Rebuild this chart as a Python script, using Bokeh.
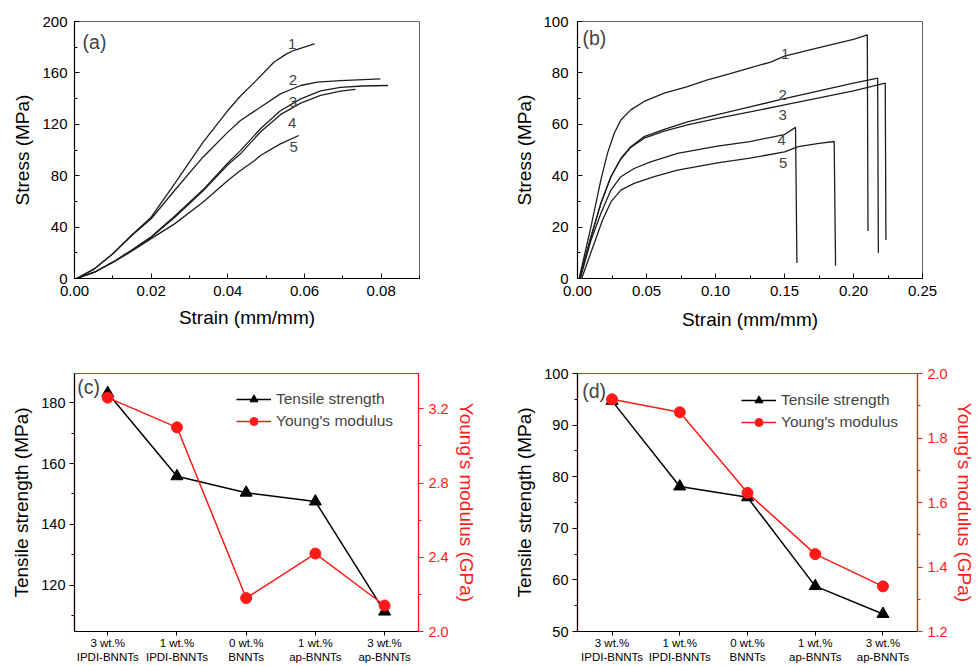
from bokeh.plotting import figure
from bokeh.models import (Range1d, LinearAxis, SingleIntervalTicker, FixedTicker,
                          NumeralTickFormatter, Label, Legend, LegendItem)
from bokeh.layouts import column, row
from bokeh.embed import file_html
from bokeh.resources import INLINE

FONT = "Liberation Sans"

# ---------------- data: panel (a) stress-strain ----------------
a1_x = [0.0005, 0.0052, 0.010, 0.0148, 0.020, 0.0261, 0.0335, 0.040, 0.0433, 0.047, 0.052, 0.055, 0.0571, 0.0626]
a1_y = [0.0, 7.5, 19.2, 33.5, 47.7, 73.7, 106.0, 130.7, 142.0, 152.8, 168.3, 174.2, 177.4, 182.6]
a2_x = [0.0005, 0.0052, 0.010, 0.0148, 0.020, 0.0261, 0.0335, 0.040, 0.0433, 0.0485, 0.0537, 0.059, 0.0633, 0.0694, 0.0798]
a2_y = [0.0, 7.5, 19.2, 33.0, 46.5, 68.5, 94.4, 113.9, 123.0, 133.3, 143.7, 150.2, 152.8, 154.0, 155.4]
a3_x = [0.0005, 0.0052, 0.010, 0.0148, 0.020, 0.0261, 0.0335, 0.040, 0.0433, 0.0485, 0.0537, 0.059, 0.0642, 0.0694, 0.075, 0.0818]
a3_y = [0.0, 4.9, 12.7, 21.8, 32.5, 48.5, 69.0, 90.0, 99.5, 116.5, 130.5, 139.8, 146.0, 148.8, 149.8, 150.2]
a4_x = [0.0005, 0.0052, 0.010, 0.0148, 0.020, 0.0261, 0.0335, 0.040, 0.0433, 0.0485, 0.0537, 0.059, 0.0642, 0.0694, 0.0733]
a4_y = [0.0, 4.9, 12.7, 21.8, 32.0, 47.5, 68.0, 88.5, 97.0, 114.0, 127.5, 136.5, 142.5, 145.8, 147.1]
a5_x = [0.0005, 0.0052, 0.010, 0.0148, 0.020, 0.0261, 0.0335, 0.040, 0.0433, 0.047, 0.0485, 0.0537, 0.0585]
a5_y = [0.0, 4.9, 12.5, 21.0, 31.0, 42.5, 59.4, 76.3, 84.0, 91.8, 95.7, 104.8, 111.3]
a_lab_x = [0.0568, 0.0570, 0.0570, 0.0568, 0.0572]
a_lab_y = [182.6, 154.6, 137.2, 120.9, 102.2]

# ---------------- data: panel (b) stress-strain ----------------
b1_x = [0.0012, 0.0097, 0.0169, 0.0217, 0.0266, 0.0314, 0.0386, 0.0483, 0.0628, 0.0797, 0.0942, 0.110, 0.125, 0.140, 0.150, 0.175, 0.200, 0.210, 0.2105]
b1_y = [0.0, 20.0, 38.3, 48.7, 56.5, 61.7, 65.6, 68.9, 72.1, 74.7, 77.3, 79.6, 82.0, 84.2, 86.5, 89.8, 93.0, 94.8, 18.5]
b2_x = [0.0015, 0.0097, 0.0169, 0.0242, 0.0314, 0.0386, 0.0483, 0.0628, 0.0797, 0.1014, 0.125, 0.150, 0.175, 0.200, 0.2175, 0.218]
b2_y = [0.0, 16.1, 29.2, 39.6, 46.7, 51.3, 55.2, 58.0, 60.9, 63.8, 66.8, 70.0, 73.0, 76.0, 78.0, 10.0]
b3_x = [0.0015, 0.0097, 0.0169, 0.0242, 0.0314, 0.0386, 0.0483, 0.0628, 0.0797, 0.1014, 0.125, 0.150, 0.175, 0.200, 0.223, 0.2235]
b3_y = [0.0, 16.1, 29.2, 39.6, 46.5, 51.0, 54.6, 57.3, 59.8, 62.3, 64.8, 67.6, 70.3, 73.0, 76.0, 15.0]
b4_x = [0.002, 0.0097, 0.0169, 0.0242, 0.0314, 0.041, 0.053, 0.0725, 0.1014, 0.125, 0.150, 0.158, 0.159]
b4_y = [0.0, 14.8, 25.3, 34.4, 39.6, 42.8, 45.4, 48.7, 51.5, 53.3, 56.0, 58.8, 6.0]
b5_x = [0.003, 0.012, 0.0181, 0.0242, 0.0314, 0.041, 0.0556, 0.0725, 0.1014, 0.125, 0.150, 0.160, 0.175, 0.186, 0.187]
b5_y = [0.0, 13.5, 22.7, 29.8, 34.4, 37.0, 39.6, 42.2, 45.0, 46.8, 49.3, 51.3, 52.6, 53.3, 5.0]
b_lab_x = [0.1505, 0.1486, 0.1486, 0.1480, 0.1490]
b_lab_y = [87.4, 71.4, 63.8, 53.8, 45.0]

curve_labels = ["1", "2", "3", "4", "5"]

# ---------------- data: panels (c), (d) ----------------
categories = ["3 wt.%\nIPDI-BNNTs", "1 wt.%\nIPDI-BNNTs", "0 wt.%\nBNNTs",
              "1 wt.%\nap-BNNTs", "3 wt.%\nap-BNNTs"]
cat_pos = [0, 1, 2, 3, 4]
c_tensile = [183.2, 155.8, 150.4, 147.5, 111.3]
c_modulus = [3.26, 3.10, 2.18, 2.42, 2.14]
d_tensile = [94.7, 78.1, 76.0, 58.8, 53.4]
d_modulus = [1.92, 1.88, 1.63, 1.44, 1.34]

RED = "#ff1a1a"
CURVE = "#1e1e1e"


def base_fig(w, h, xr, yr, bl, br, bt, bb):
    p = figure(width=w, height=h, x_range=xr, y_range=yr, output_backend="svg",
               toolbar_location=None, min_border_left=bl, min_border_right=br,
               min_border_top=bt, min_border_bottom=bb)
    p.grid.visible = False
    p.background_fill_color = "white"
    p.border_fill_color = "white"
    return p


def style_axis(ax, color="black", inside=True, label_size="15px", label_standoff=6,
               axis_label_standoff=6, tick_out=5):
    ax.axis_line_color = color
    ax.axis_line_width = 1.2
    ax.major_tick_line_color = color
    ax.minor_tick_line_color = color
    ax.major_label_text_color = color
    ax.axis_label_text_color = color
    ax.major_label_text_font = FONT
    ax.major_label_text_font_size = label_size
    ax.axis_label_text_font = FONT
    ax.axis_label_text_font_size = "19px"
    ax.axis_label_text_font_style = "normal"
    ax.major_label_standoff = label_standoff
    ax.axis_label_standoff = axis_label_standoff
    if inside:
        ax.major_tick_in = 5
        ax.major_tick_out = 0
        ax.minor_tick_in = 3
        ax.minor_tick_out = 0
    else:
        ax.major_tick_in = 0
        ax.major_tick_out = tick_out
        ax.minor_tick_in = 0
        ax.minor_tick_out = 3


def panel_label(p, x, y, text):
    p.add_layout(Label(x=x, y=y, text=text, text_font=FONT, text_font_size="19.5px",
                       text_align="left", text_baseline="middle"))


# ---------------- panel (a) ----------------
pa = base_fig(480, 340, Range1d(0, 0.09), Range1d(0, 200), 74, 61, 21, 62)
pa.outline_line_color = "#666666"
for xs, ys in [(a1_x, a1_y), (a2_x, a2_y), (a3_x, a3_y), (a4_x, a4_y), (a5_x, a5_y)]:
    pa.line(xs, ys, line_color=CURVE, line_width=1.3)
for x, y, t in zip(a_lab_x, a_lab_y, curve_labels):
    pa.add_layout(Label(x=x, y=y, text=t, text_font=FONT, text_font_size="15px",
                        text_align="center", text_baseline="middle"))
pa.xaxis.ticker = SingleIntervalTicker(interval=0.02, num_minor_ticks=2)
pa.xaxis.formatter = NumeralTickFormatter(format="0.00")
pa.yaxis.ticker = SingleIntervalTicker(interval=40, num_minor_ticks=2)
pa.xaxis.axis_label = "Strain (mm/mm)"
pa.yaxis.axis_label = "Stress (MPa)"
style_axis(pa.xaxis[0], label_standoff=7, axis_label_standoff=8)
style_axis(pa.yaxis[0], label_standoff=7, axis_label_standoff=6)
panel_label(pa, 0.0021, 184.4, "(a)")

# ---------------- panel (b) ----------------
pb = base_fig(497, 340, Range1d(0, 0.25), Range1d(0, 100), 97, 55, 21, 62)
pb.outline_line_color = "#666666"
for xs, ys in [(b1_x, b1_y), (b2_x, b2_y), (b3_x, b3_y), (b4_x, b4_y), (b5_x, b5_y)]:
    pb.line(xs, ys, line_color=CURVE, line_width=1.3)
for x, y, t in zip(b_lab_x, b_lab_y, curve_labels):
    pb.add_layout(Label(x=x, y=y, text=t, text_font=FONT, text_font_size="15px",
                        text_align="center", text_baseline="middle"))
pb.xaxis.ticker = SingleIntervalTicker(interval=0.05, num_minor_ticks=2)
pb.xaxis.formatter = NumeralTickFormatter(format="0.00")
pb.yaxis.ticker = SingleIntervalTicker(interval=20, num_minor_ticks=2)
pb.xaxis.axis_label = "Strain (mm/mm)"
pb.yaxis.axis_label = "Stress (MPa)"
style_axis(pb.xaxis[0], label_standoff=7, axis_label_standoff=10)
style_axis(pb.yaxis[0], label_standoff=9, axis_label_standoff=5)
panel_label(pb, 0.0036, 93.75, "(b)")


# ---------------- panels (c), (d) ----------------
def make_bottom(w, bl, br, xr, yl, yr, yl_int, yr_int, tens, modu, lab, lab_y, leg_loc,
                rlab_standoff):
    p = base_fig(w, 325, xr, yl, bl, br, 33, 34)
    p.outline_line_color = RED
    p.outline_line_width = 1.2
    p.extra_y_ranges = {"ym": yr}
    lt = p.line(cat_pos, tens, line_color="black", line_width=1.5)
    st = p.scatter(cat_pos, tens, marker="triangle", size=12, fill_color="black",
                   line_color="black")
    lm = p.line(cat_pos, modu, line_color=RED, line_width=1.5, y_range_name="ym")
    sm = p.scatter(cat_pos, modu, marker="circle", size=11, fill_color=RED,
                   line_color=RED, y_range_name="ym")
    p.xaxis.ticker = FixedTicker(ticks=cat_pos, minor_ticks=[])
    p.xaxis.major_label_overrides = {pos: c for pos, c in zip(cat_pos, categories)}
    style_axis(p.xaxis[0], inside=False, label_size="11.5px", label_standoff=1,
               tick_out=4)
    p.yaxis.ticker = SingleIntervalTicker(interval=yl_int, num_minor_ticks=2)
    p.yaxis.axis_label = "Tensile strength (MPa)"
    style_axis(p.yaxis[0], inside=False, label_size="14.5px", label_standoff=4,
               axis_label_standoff=6)
    ax = LinearAxis(y_range_name="ym", axis_label="Young's modulus (GPa)",
                    ticker=SingleIntervalTicker(interval=yr_int, num_minor_ticks=2),
                    formatter=NumeralTickFormatter(format="0.0"))
    style_axis(ax, color=RED, inside=False, label_size="14.5px", label_standoff=5,
               axis_label_standoff=rlab_standoff)
    p.add_layout(ax, "right")
    leg = Legend(items=[LegendItem(label="Tensile strength", renderers=[lt, st]),
                        LegendItem(label="Young's modulus", renderers=[lm, sm])],
                 location=leg_loc, border_line_color=None, background_fill_alpha=0,
                 label_text_font=FONT, label_text_font_size="15.5px", glyph_width=35,
                 glyph_height=20, label_height=20, label_standoff=5, padding=4,
                 spacing=2, margin=0)
    p.add_layout(leg)
    panel_label(p, -0.44, lab_y, lab)
    return p


pc = make_bottom(480, 74, 62, Range1d(-0.48, 4.49), Range1d(104.75, 189.6),
                 Range1d(2.0, 3.39), 20, 0.4, c_tensile, c_modulus, "(c)", 185.0,
                 (162, 200), 4)
pd_ = make_bottom(497, 97, 55, Range1d(-0.51, 4.51), Range1d(50, 100),
                  Range1d(1.2, 2.0), 10, 0.2, d_tensile, d_modulus, "(d)", 96.7,
                  (164, 199), 3)

layout = column(row(pa, pb), row(pc, pd_))
open("out.html", "w").write(file_html(layout, INLINE))
